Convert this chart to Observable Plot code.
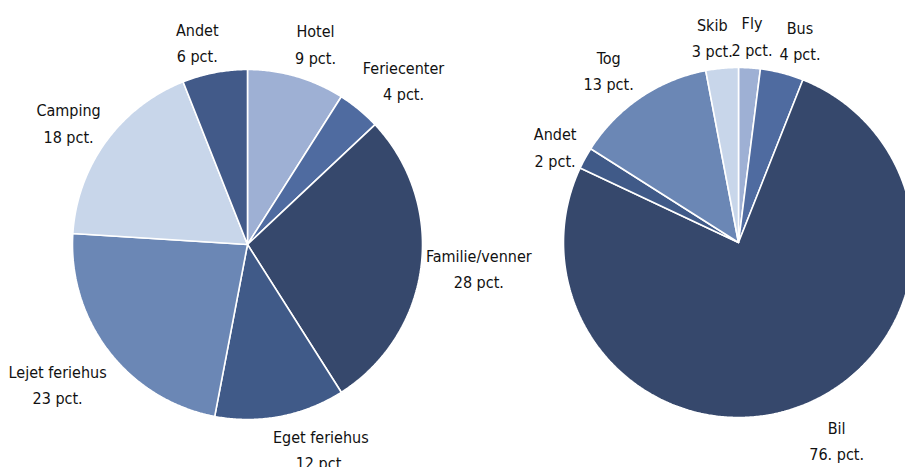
<!DOCTYPE html>
<html>
<head>
<meta charset="utf-8">
<script src="https://cdn.jsdelivr.net/npm/d3@7"></script>
<script src="https://cdn.jsdelivr.net/npm/@observablehq/plot@0.6"></script>
<style>
  html, body { margin: 0; padding: 0; background: #fff; overflow: hidden; }
  #chart { width: 905px; height: 467px; overflow: hidden; }
</style>
</head>
<body>
<div id="chart"></div>
<script>
// ---- Data ----
const leftCategories = ["Hotel", "Feriecenter", "Familie/venner", "Eget feriehus", "Lejet feriehus", "Camping", "Andet"];
const leftValues = [9, 4, 28, 12, 23, 18, 6];
const leftValueLabels = ["9 pct.", "4 pct.", "28 pct.", "12 pct.", "23 pct.", "18 pct.", "6 pct."];

const rightCategories = ["Fly", "Bus", "Bil", "Andet", "Tog", "Skib"];
const rightValues = [2, 4, 76, 2, 13, 3];
const rightValueLabels = ["2 pct.", "4 pct.", "76. pct.", "2 pct.", "13 pct.", "3 pct."];

// ---- Styles / layout ----
const leftColors = ["#9eb0d4", "#4f6ba0", "#36486c", "#405a88", "#6b87b5", "#c8d6ea", "#425a89"];
const rightColors = ["#9eb0d4", "#4f6ba0", "#36486c", "#405a88", "#6b87b5", "#c8d6ea"];
const leftNudge = [[8, 4], [19, 0], [18, -5], [33, -8], [-20, 6], [-5, 3], [-10, 7]];
const rightNudge = [[0, 6], [8, 4], [19, -4], [5, 6], [-9, 4], [-6, 7]];

const W = 905, H = 467;
const R = 175, LABEL_R = 215;
const pies = [
  {id: "L", cx: 247, cy: 244, cats: leftCategories, vals: leftValues, labs: leftValueLabels, colors: leftColors, nudge: leftNudge},
  {id: "R", cx: 738, cy: 242, cats: rightCategories, vals: rightValues, labs: rightValueLabels, colors: rightColors, nudge: rightNudge}
];

const slicePts = [];
const labels = [];
for (const p of pies) {
  const arcs = d3.pie().sort(null).value(d => d)(p.vals);
  arcs.forEach((a, i) => {
    const key = p.id + "-" + i;
    const color = p.colors[i];
    slicePts.push({key, color, x: p.cx, y: p.cy});
    const n = Math.max(2, Math.ceil((a.endAngle - a.startAngle) / (Math.PI / 360)));
    for (let k = 0; k <= n; k++) {
      const t = a.startAngle + (a.endAngle - a.startAngle) * k / n;
      slicePts.push({key, color, x: p.cx + R * Math.sin(t), y: p.cy - R * Math.cos(t)});
    }
    slicePts.push({key, color, x: p.cx, y: p.cy});
    const mid = (a.startAngle + a.endAngle) / 2;
    labels.push({
      text: p.cats[i] + "\n" + p.labs[i],
      x: p.cx + LABEL_R * Math.sin(mid) + p.nudge[i][0],
      y: p.cy - LABEL_R * Math.cos(mid) + p.nudge[i][1]
    });
  });
}

const chart = Plot.plot({
  width: W,
  height: H,
  margin: 0,
  x: {domain: [0, W], range: [0, W], axis: null},
  y: {domain: [0, H], range: [0, H], axis: null},
  color: {type: "identity"},
  style: {background: "#fff", fontFamily: "'DejaVu Sans Condensed', 'DejaVu Sans', sans-serif"},
  marks: [
    Plot.line(slicePts, {x: "x", y: "y", z: "key", fill: "color", stroke: "#fff", strokeWidth: 1.6, strokeLinejoin: "miter"}),
    Plot.text(labels, {
      x: "x", y: "y", text: "text",
      fontSize: 16, lineHeight: 1.65, fill: "#111",
      textAnchor: "middle", lineAnchor: "middle"
    })
  ]
});
chart.style.fontStretch = "condensed";
document.getElementById("chart").appendChild(chart);
</script>
</body>
</html>
